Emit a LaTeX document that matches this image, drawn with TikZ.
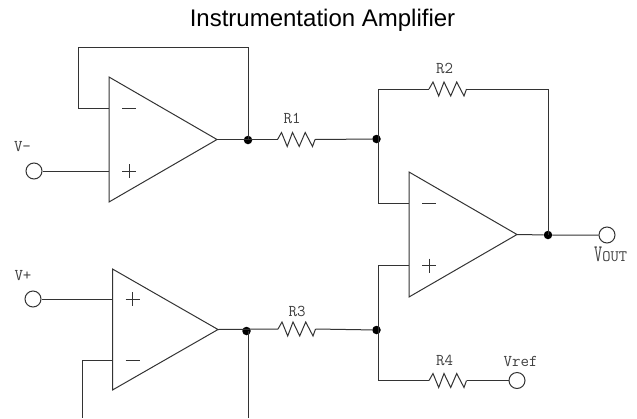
\documentclass[tikz,border=0pt]{standalone}
\usepackage{fontspec}
\setsansfont{Liberation Sans}
\usetikzlibrary{calc}
\definecolor{wire}{gray}{0.2}
\tikzset{
  x=1pt,y=-1pt,
  wireline/.style={draw=wire,line width=1pt,line join=miter},
  port/.style={circle,draw=wire,line width=1pt,fill=white,minimum size=16pt,inner sep=0pt},
  junction/.style={circle,fill=black,minimum size=8.5pt,inner sep=0pt},
  lbl/.style={font=\ttfamily\fontsize{16.5}{16.5}\selectfont,text=black!75,inner sep=0pt},
  sign/.style={line width=0.9pt,draw=wire},
  resistor/.pic={
    \coordinate (-a) at (0,0);
    \coordinate (-b) at (37.5,0);
    \draw[wireline,line join=miter] (-a) -- (4,-7) -- (9.7,7) -- (15,-7) -- (21.7,7) -- (27.7,-7) -- (35,7) -- (-b);
  }
}
\newcommand{\opamp}[7]{% name, left x, top y, bot y, tip x, inv y, noninv y
  \coordinate (#1-t) at (#2,#3);
  \coordinate (#1-b) at (#2,#4);
  \coordinate (#1-o) at (#5,{(#3+#4)/2});
  \coordinate (#1-m) at (#2,#6);
  \coordinate (#1-p) at (#2,#7);
  \draw[wireline] (#1-t) -- (#1-b) -- (#1-o) -- cycle;
  \draw[sign] ($(#1-m)+(13,0)$) -- ++(14,0);
  \draw[sign] ($(#1-p)+(13,0)$) -- ++(14,0);
  \draw[sign] ($(#1-p)+(20,-7)$) -- ++(0,14);
}
\begin{document}
\begin{tikzpicture}
\useasboundingbox (0,0) rectangle (637,418);
\node[font=\sffamily\fontsize{24}{24}\selectfont,inner sep=0pt,anchor=base] (title) at (322.5,26) {Instrumentation Amplifier};

\opamp{A}{109}{77}{202}{217}{108}{171}
\opamp{B}{112.5}{269}{390}{218}{360}{299}
\opamp{C}{409}{172}{297}{517}{203}{265.5}

\node[port] (vm) at (34,171) {};
\node[port] (vp) at (33,299) {};
\node[port] (vout) at (607,235) {};
\node[port] (vref) at (517,380.5) {};

\node[junction] (j1) at (248,140) {};
\node[junction] (j2) at (246.5,331) {};
\node[junction] (j3) at (376.5,139) {};
\node[junction] (j4) at (376.5,330) {};
\node[junction] (j5) at (548,235) {};

\pic (R1) at (277.5,139.5) {resistor};
\pic (R2) at (429,89) {resistor};
\pic (R3) at (278,329) {resistor};
\pic (R4) at (429,380.5) {resistor};

\coordinate (fa1) at (78,108);
\coordinate (fa2) at (78,47);
\coordinate (fa3) at (248,47);
\coordinate (fb1) at (82,418);
\coordinate (fb2) at (82,360);
\coordinate (fb3) at (248,418);
\coordinate (r2l) at (378,89);
\coordinate (r2r) at (548,89);
\coordinate (cm) at (378,203);
\coordinate (cp) at (378,265.5);
\coordinate (r4l) at (378,380.5);

\draw[wireline] (A-m) -- (fa1) -- (fa2) -- (fa3) -- (j1.center);
\draw[wireline] (vm) -- (A-p);
\draw[wireline] (A-o) -- (R1-a);
\draw[wireline] (R1-b) -- (j3);
\draw[wireline] (vp) -- (B-p);
\draw[wireline] (B-m) -- (fb2) -- (fb1);
\draw[wireline] (B-o) -- (R3-a);
\draw[wireline] (fb3) -- (248,331);
\draw[wireline] (R3-b) -- (j4);
\draw[wireline] (C-m) -- (cm) -- (r2l) -- (R2-a);
\draw[wireline] (R2-b) -- (r2r) -- (j5.center);
\draw[wireline] (C-p) -- (cp) -- (r4l) -- (R4-a);
\draw[wireline] (R4-b) -- (vref);
\draw[wireline] (C-o) -- (j5) -- (vout);

\node[lbl] (lm) at (22.5,147) {V-};
\node[lbl] (lp) at (23,276) {V+};
\node[lbl] (l1) at (292,118) {R1};
\node[lbl] (l2) at (444.5,68) {R2};
\node[lbl] (l3) at (297,311) {R3};
\node[lbl] (l4) at (444.5,360) {R4};
\node[lbl] (lr) at (520.5,361) {Vref};
\node[lbl,anchor=base west] (lo) at (594,261.5) {\scalebox{0.95}[1.45]{V}{\fontsize{16}{16}\selectfont OUT}};
\end{tikzpicture}
\end{document}
